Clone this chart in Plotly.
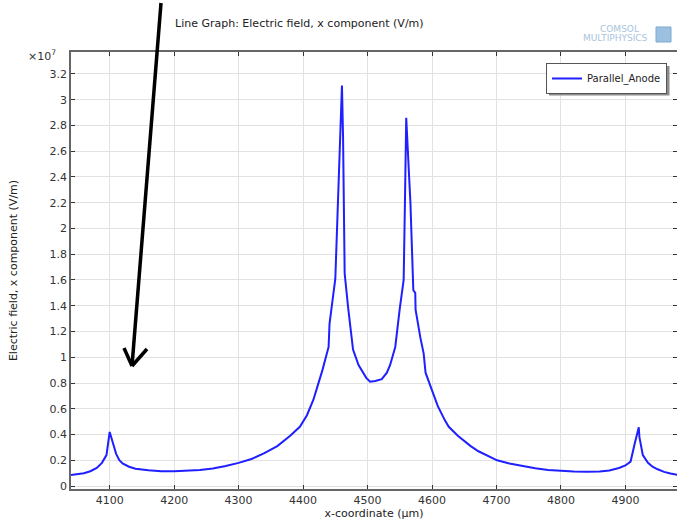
import plotly.graph_objects as go

# x-coordinate (µm)
x_um = [4040, 4050, 4060, 4070, 4080, 4088, 4095, 4100, 4105, 4110, 4115, 4120, 4130,
        4140, 4160, 4180, 4200, 4220, 4240, 4260, 4280, 4300, 4320, 4340, 4360, 4380,
        4395, 4406, 4416, 4421.5, 4430, 4439.6, 4441, 4450,
        4453.6, 4457.7, 4460.3, 4462, 4464.5, 4470, 4477.5, 4486, 4493, 4498, 4504, 4512,
        4522, 4530, 4535,
        4543, 4550, 4556, 4558, 4560, 4564, 4566.5, 4571, 4574, 4574.5, 4577, 4582, 4587,
        4590, 4598, 4605, 4609, 4620, 4626, 4640, 4647, 4660, 4672, 4690, 4701, 4720,
        4740, 4760, 4780, 4800, 4820, 4840, 4860, 4875, 4890, 4900,
        4908, 4914, 4920.7, 4921.7, 4927, 4935, 4942, 4950, 4960, 4970, 4982]
# Electric field, x component, in units of 1e7 V/m
ex_1e7 = [0.085, 0.09, 0.1, 0.115, 0.14, 0.18, 0.24, 0.42, 0.34, 0.25, 0.2, 0.175, 0.15,
          0.135, 0.122, 0.115, 0.114, 0.117, 0.125, 0.137, 0.155, 0.18, 0.21, 0.255, 0.31, 0.39,
          0.46, 0.55, 0.67, 0.76, 0.9, 1.08, 1.26, 1.61,
          2.2, 2.71, 3.11, 2.71, 1.65, 1.38, 1.06, 0.94, 0.875, 0.84, 0.81, 0.815,
          0.83, 0.88, 0.94,
          1.08, 1.38, 1.6, 2.2, 2.86, 2.45, 2.2, 1.52, 1.5, 1.37, 1.29, 1.15, 1.03,
          0.88, 0.77, 0.68, 0.62, 0.51, 0.46, 0.39, 0.36, 0.31, 0.27, 0.225, 0.2, 0.175,
          0.155, 0.138, 0.125, 0.117, 0.112, 0.11, 0.112, 0.12, 0.14, 0.16,
          0.19, 0.32, 0.456, 0.38, 0.24, 0.18, 0.15, 0.13, 0.11, 0.097, 0.085]

series_name = "Parallel_Anode"
x_ticks = [4100, 4200, 4300, 4400, 4500, 4600, 4700, 4800, 4900]
y_ticks = [0, 0.2, 0.4, 0.6, 0.8, 1, 1.2, 1.4, 1.6, 1.8, 2, 2.2, 2.4, 2.6, 2.8, 3, 3.2]
y_ticktext = ["0", "0.2", "0.4", "0.6", "0.8", "1", "1.2", "1.4", "1.6", "1.8", "2",
              "2.2", "2.4", "2.6", "2.8", "3", "3.2"]

W, H = 677, 520
L, R, T, B = 71, 0, 52, 31
PW, PH = W - L - R, H - T - B


def px(xp):
    return (xp - L) / PW


def py(yp):
    return (H - B - yp) / PH


FONT = "DejaVu Sans"

fig = go.Figure()
fig.add_trace(go.Scatter(x=x_um, y=ex_1e7, mode="lines", name=series_name,
                         line=dict(color="#1f1fff", width=2)))

axis_common = dict(showgrid=True, gridcolor="#e2e2e2", gridwidth=1,
                   showline=True, linecolor="#666", linewidth=1.5, mirror="ticks",
                   ticks="inside", ticklen=4, tickcolor="#333", tickwidth=1,
                   tickfont=dict(family=FONT, size=11, color="#333"),
                   zeroline=False, automargin=False)

fig.update_xaxes(range=[4040, 4980], tickvals=x_ticks,
                 title=dict(text="x-coordinate (µm)", font=dict(family=FONT, size=11, color="#222"),
                            standoff=4),
                 **axis_common)
fig.update_yaxes(range=[-0.023, 3.37], tickvals=y_ticks, ticktext=y_ticktext,
                 title=dict(text="Electric field, x component (V/m)",
                            font=dict(family=FONT, size=11, color="#222"), standoff=30),
                 **axis_common)

# legend shadow (drawn above traces, legend itself sits on top)
fig.add_shape(type="rect", xref="paper", yref="paper", layer="above",
              x0=px(549), x1=px(669.5), y0=py(95.5), y1=py(66),
              fillcolor="#8c8c8c", line=dict(width=0))

# arrow annotation
arrow = dict(color="black", width=3.5)
fig.add_shape(type="line", xref="paper", yref="paper", x0=px(161), y0=py(3), x1=px(132), y1=py(366), line=arrow)
fig.add_shape(type="line", xref="paper", yref="paper", x0=px(124), y0=py(348), x1=px(132), y1=py(366), line=arrow)
fig.add_shape(type="line", xref="paper", yref="paper", x0=px(147), y0=py(349), x1=px(132), y1=py(366), line=arrow)

# COMSOL logo cube
fig.add_shape(type="rect", xref="paper", yref="paper", x0=px(656), x1=px(671), y0=py(42), y1=py(27),
              fillcolor="#9cc0e0", line=dict(color="#7fa9d0", width=1))

fig.update_layout(
    width=W, height=H,
    margin=dict(l=L, r=R, t=T, b=B, pad=0),
    paper_bgcolor="white", plot_bgcolor="white",
    showlegend=True,
    legend=dict(x=px(667), xanchor="right", y=py(63), yanchor="top",
                bgcolor="white", bordercolor="#555", borderwidth=1,
                itemwidth=30, tracegroupgap=0,
                font=dict(family=FONT, size=10, color="#222")),
    annotations=[
        dict(text="Line Graph: Electric field, x component (V/m)", xref="paper", yref="paper",
             x=px(173), y=py(23), xanchor="left", yanchor="middle", showarrow=False,
             font=dict(family=FONT, size=11, color="#222")),
        dict(text="×10<sup>7</sup>", xref="paper", yref="paper",
             x=px(58), y=py(56), xanchor="right", yanchor="middle", showarrow=False,
             font=dict(family=FONT, size=11, color="#333")),
        dict(text="COMSOL", xref="paper", yref="paper",
             x=px(619), y=py(29), xanchor="center", yanchor="middle", showarrow=False,
             font=dict(family=FONT, size=9, color="#a9c4de")),
        dict(text="MULTIPHYSICS", xref="paper", yref="paper",
             x=px(615), y=py(38), xanchor="center", yanchor="middle", showarrow=False,
             font=dict(family=FONT, size=9, color="#a9c4de")),
    ],
)

fig.write_html("out.html")
